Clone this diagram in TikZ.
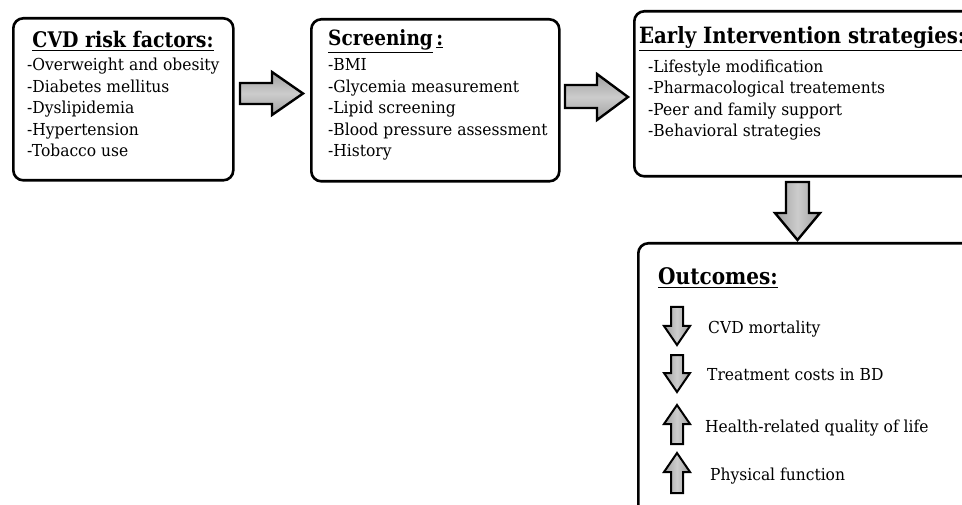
\documentclass[tikz,border=0pt]{standalone}
\usepackage{fontspec}
\setmainfont{DejaVu Serif}
\newfontfamily\itemfont[FakeStretch=0.94]{DejaVu Serif}
\newfontfamily\ttlfont[FakeStretch=0.88]{DejaVu Serif}
\begin{document}
\begin{tikzpicture}[x=1pt,y=-1pt,
  box/.style={draw, line width=2.6pt, rounded corners=10pt, inner sep=0pt},
  item/.style={anchor=base west, inner sep=0pt, font=\itemfont\fontsize{16.5}{20}\selectfont},
  ttl/.style={anchor=base west, inner sep=0pt, font=\ttlfont\bfseries\fontsize{21.5}{26}\selectfont},
  harrow/.style={draw, line width=2.4pt, line join=miter, top color=gray!75, bottom color=gray!75, middle color=gray!40},
  varrow/.style={draw, line width=2.4pt, line join=miter, left color=gray!75, right color=gray!75, middle color=gray!40},
  sarrow/.style={draw, line width=2pt, line join=miter, left color=gray!75, right color=gray!75, middle color=gray!40}]
\useasboundingbox (0,0) rectangle (962,505);
\clip (0,0) rectangle (962,505);
% boxes
\node[box, anchor=north west, minimum width=220, minimum height=162] (b1) at (12,17) {};
\node[box, anchor=north west, minimum width=248, minimum height=162] (b2) at (310,18) {};
\node[box, anchor=north west, minimum width=380, minimum height=165] (b3) at (633,10) {};
\node[box, anchor=north west, minimum width=380, minimum height=300] (b4) at (637,242) {};
% box 1
\node[ttl, anchor=base] (t1) at (123,48) {\underline{CVD risk factors:}};
\node[item] (i11) at (27,71) {-Overweight and obesity};
\node[item] (i12) at (27,92.5) {-Diabetes mellitus};
\node[item] (i13) at (27,114) {-Dyslipidemia};
\node[item] (i14) at (27,135.5) {-Hypertension};
\node[item] (i15) at (27,157) {-Tobacco use};
% box 2
\node[ttl, font=\ttlfont\bfseries\fontsize{21}{26}\selectfont] (t2) at (328,46) {\underline{Screening}\,\underline{:}};
\node[item] (i21) at (328,71) {-BMI};
\node[item] (i22) at (328,92.5) {-Glycemia measurement};
\node[item] (i23) at (328,114) {-Lipid screening};
\node[item] (i24) at (328,135.5) {-Blood pressure assessment};
\node[item] (i25) at (328,157) {-History};
% box 3
\node[ttl, font=\ttlfont\bfseries\fontsize{22.4}{26}\selectfont] (t3) at (639,44) {\underline{Early Intervention strategies:}};
\node[item] (i31) at (648,72.5) {-Lifestyle modification};
\node[item] (i32) at (648,94) {-Pharmacological treatements};
\node[item] (i33) at (648,115.5) {-Peer and family support};
\node[item] (i34) at (648,137) {-Behavioral strategies};
% box 4
\node[ttl, font=\ttlfont\bfseries\fontsize{22.8}{26}\selectfont] (t4) at (658,285) {\underline{Outcomes:}};
\node[item] (o1) at (708,334) {CVD mortality};
\node[item] (o2) at (707,380) {Treatment costs in BD};
\node[item] (o3) at (705,432) {Health-related quality of life};
\node[item] (o4) at (710,480) {Physical function};
% block arrows between boxes
\draw[harrow] (240,83) -- (272,83) -- (272,72) -- (303,93.5) -- (272,115) -- (272,104) -- (240,104) -- cycle;
\draw[harrow] (565,85) -- (597,85) -- (597,74) -- (628,97) -- (597,120) -- (597,108) -- (565,108) -- cycle;
\draw[varrow] (786,182) -- (809,182) -- (809,213) -- (820,213) -- (797.5,240) -- (775,213) -- (786,213) -- cycle;
% small outcome arrows
\draw[sarrow] (671,307) -- (683,307) -- (683,326) -- (690,326) -- (677,345) -- (664,326) -- (671,326) -- cycle;
\draw[sarrow] (671,355) -- (683,355) -- (683,373) -- (690,373) -- (677,392) -- (664,373) -- (671,373) -- cycle;
\draw[sarrow] (671,444) -- (683,444) -- (683,424) -- (690,424) -- (677,405) -- (664,424) -- (671,424) -- cycle;
\draw[sarrow] (671,493) -- (683,493) -- (683,472) -- (690,472) -- (677,453) -- (664,472) -- (671,472) -- cycle;
\end{tikzpicture}
\end{document}
